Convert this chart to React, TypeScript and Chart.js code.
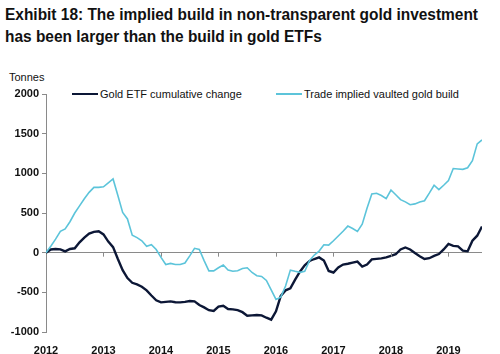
import React, { useEffect, useRef, useState } from "react";
import { Chart, registerables } from "chart.js";

Chart.register(...registerables);

const TITLE_LINES = [
  "Exhibit 18: The implied build in non-transparent gold investment",
  "has been larger than the build in gold ETFs",
];
const Y_UNIT = "Tonnes";
const SERIES_NAMES = ["Gold ETF cumulative change", "Trade implied vaulted gold build"];
const SERIES_COLORS = ["#0c1736", "#5cc4da"];

const START_YEAR = 2012;
const YEAR_TICKS = [2012, 2013, 2014, 2015, 2016, 2017, 2018, 2019];

// monthly values, Jan 2012 .. Aug 2019 (tonnes)
const etfValues = [
  0, 40, 46, 42, 16, 46, 55, 130, 190, 240, 262, 269,
  230, 140, 70, -80, -220, -320, -380, -400, -430, -475, -540, -600,
  -626, -620, -614, -625, -626, -620, -610, -614, -660, -690, -725, -735,
  -680, -670, -710, -715, -725, -750, -794, -790, -785, -790, -820, -845,
  -740, -545, -475, -450, -340, -240, -160, -105, -80, -60, -100, -230,
  -250, -185, -150, -140, -125, -113, -175, -150, -85, -78, -72, -60,
  -40, -20, 40, 65, 40, -5, -45, -80, -70, -40, -17, 40,
  110, 85, 80, 25, 17, 150, 214, 330,
];

const tradeValues = [
  0, 80, 170, 270, 300, 390, 500, 590, 680, 760, 823, 823,
  830, 880, 929, 720, 508, 425, 220, 190, 150, 80, 100, 40,
  -60, -150, -135, -150, -150, -130, -40, 55, 40, -100, -230, -230,
  -190, -155, -220, -235, -227, -200, -190, -250, -290, -300, -350, -470,
  -590, -560, -420, -220, -235, -248, -235, -100, -30, 20, 100, 95,
  150, 210, 270, 335, 305, 269, 360, 560, 740, 748, 720, 680,
  790, 730, 668, 640, 605, 615, 640, 655, 750, 850, 795, 850,
  908, 1060, 1055, 1050, 1070, 1160, 1371, 1421,
];

const toPoints = (vals: number[]) =>
  vals.map((v, i) => ({ x: START_YEAR + i / 12, y: v }));

const AXIS_GRAY = "#8a8a8a";
const FONT = "'Liberation Sans', Arial, sans-serif";
const TITLE_SIZE = 17;
const TITLE_TARGET_WIDTH = 473;

const zeroTicksPlugin = {
  id: "zeroTicks",
  afterDatasetsDraw(chart: any) {
    const { ctx, scales } = chart;
    const x = scales.x;
    const y = scales.y;
    const y0 = y.getPixelForValue(0);
    ctx.save();
    ctx.strokeStyle = AXIS_GRAY;
    ctx.lineWidth = 1;
    YEAR_TICKS.forEach((yr) => {
      if (yr === START_YEAR) return;
      const px = Math.round(x.getPixelForValue(yr)) + 0.5;
      ctx.beginPath();
      ctx.moveTo(px, y0);
      ctx.lineTo(px, y0 + 4);
      ctx.stroke();
    });
    ctx.restore();
  },
};

export default function App() {
  const ref = useRef<HTMLCanvasElement | null>(null);
  const [titleScale, setTitleScale] = useState(1);

  useEffect(() => {
    const c = document.createElement("canvas").getContext("2d");
    if (c) {
      c.font = `bold ${TITLE_SIZE}px ${FONT}`;
      const w = c.measureText(TITLE_LINES[0]).width;
      if (w > 0) setTitleScale(TITLE_TARGET_WIDTH / w);
    }
  }, []);

  useEffect(() => {
    if (!ref.current) return;
    const chart = new Chart(ref.current, {
      type: "line",
      data: {
        datasets: [
          {
            label: SERIES_NAMES[1],
            data: toPoints(tradeValues),
            borderColor: SERIES_COLORS[1],
            backgroundColor: SERIES_COLORS[1],
            borderWidth: 1.6,
            pointRadius: 0,
            tension: 0,
          },
          {
            label: SERIES_NAMES[0],
            data: toPoints(etfValues),
            borderColor: SERIES_COLORS[0],
            backgroundColor: SERIES_COLORS[0],
            borderWidth: 2.4,
            pointRadius: 0,
            tension: 0,
          },
        ],
      },
      options: {
        animation: false,
        responsive: false,
        maintainAspectRatio: false,
        layout: { padding: { left: 0, right: 18, top: 94, bottom: 0 } },
        plugins: {
          legend: { display: false },
          title: { display: false },
          tooltip: { enabled: false },
        },
        scales: {
          x: {
            type: "linear",
            min: START_YEAR,
            max: START_YEAR + (etfValues.length - 1) / 12,
            grid: { display: false },
            border: { display: false },
            afterBuildTicks: (scale: any) => {
              scale.ticks = YEAR_TICKS.map((v) => ({ value: v }));
            },
            afterFit: (scale: any) => {
              scale.height = 22;
            },
            ticks: {
              autoSkip: false,
              maxRotation: 0,
              padding: 4,
              color: "#111",
              font: { family: FONT, size: 11, weight: "bold" },
              callback: (v: any) => String(v),
            },
          },
          y: {
            min: -1000,
            max: 2000,
            afterFit: (scale: any) => {
              scale.width = 46;
            },
            border: { display: true, color: AXIS_GRAY, width: 1 },
            grid: {
              color: (c: any) => (c.tick && c.tick.value === 0 ? AXIS_GRAY : "rgba(0,0,0,0)"),
              tickColor: AXIS_GRAY,
              tickLength: 4,
              drawTicks: true,
            },
            ticks: {
              stepSize: 500,
              padding: 3,
              color: "#111",
              font: { family: FONT, size: 11, weight: "bold" },
              callback: (v: any) => String(v),
            },
          },
        },
      },
      plugins: [zeroTicksPlugin],
    } as any);
    return () => chart.destroy();
  }, []);

  return (
    <div
      style={{
        position: "fixed",
        left: 0,
        top: 0,
        width: 500,
        height: 354,
        background: "#fff",
        fontFamily: FONT,
        color: "#111",
      }}
    >
      <div
        style={{
          position: "absolute",
          left: 5,
          top: 4,
          fontFamily: FONT,
          fontWeight: "bold",
          fontSize: TITLE_SIZE,
          lineHeight: "22px",
          whiteSpace: "nowrap",
          color: "#111",
          transform: `scaleX(${titleScale})`,
          transformOrigin: "0 0",
        }}
      >
        {TITLE_LINES.map((t) => (
          <div key={t}>{t}</div>
        ))}
      </div>
      <div style={{ position: "absolute", left: 9, top: 71, fontSize: 11 }}>{Y_UNIT}</div>
      {SERIES_NAMES.map((name, i) => (
        <div
          key={name}
          style={{
            position: "absolute",
            left: i === 0 ? 72 : 276,
            top: 88,
            fontSize: 11,
            display: "flex",
            alignItems: "center",
            whiteSpace: "nowrap",
          }}
        >
          <span
            style={{
              display: "inline-block",
              width: 26,
              height: i === 0 ? 2.4 : 1.6,
              background: SERIES_COLORS[i],
              marginRight: 2,
            }}
          />
          <span>{name}</span>
        </div>
      ))}
      <canvas
        ref={ref}
        width={500}
        height={354}
        style={{ position: "absolute", left: 0, top: 0, width: 500, height: 354 }}
      />
    </div>
  );
}
